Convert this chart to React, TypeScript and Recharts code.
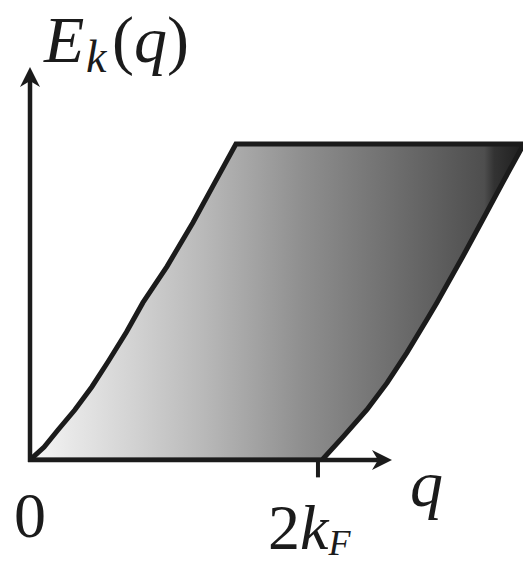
import { Area, ComposedChart, ReferenceLine, XAxis, YAxis } from "recharts"

// upper edge of the continuum, q in units of 2kF, E scaled so the cut-off is 1
const upperQ = [0, 0.049, 0.097, 0.156, 0.215, 0.271, 0.335, 0.392, 0.476, 0.566, 0.635, 0.715]
const upperE = [0, 0.041, 0.095, 0.159, 0.232, 0.311, 0.405, 0.498, 0.613, 0.752, 0.867, 1]
// lower edge, starting at 2kF
const lowerQ = [1.014, 1.087, 1.17, 1.24, 1.309, 1.378, 1.413, 1.503, 1.573, 1.642, 1.715]
const lowerE = [0, 0.073, 0.159, 0.244, 0.34, 0.444, 0.498, 0.644, 0.762, 0.879, 1]
const topE = 1
const twoKF = 1

const qMax = 1.712
const eMax = 1.244
const xArrowEnd = 1.257

// range rows [low, high] for the shaded band
const data = [
  ...upperQ.map((q, i) => ({ q, range: [0, upperE[i]] })),
  ...lowerQ.map((q, i) => ({ q, range: [lowerE[i], topE] })),
]

const ink = "#1b1b1b"
const serif = "'Liberation Serif', 'DejaVu Serif', serif"

function Arrow(props: any) {
  const { x1, y1, x2, y2 } = props
  const dx = x2 - x1
  const dy = y2 - y1
  const len = Math.sqrt(dx * dx + dy * dy) || 1
  const ux = dx / len
  const uy = dy / len
  const px = -uy
  const py = ux
  const head = 20
  const half = 10
  const bx = x2 - ux * head
  const by = y2 - uy * head
  const nx = x2 - ux * head * 0.7
  const ny = y2 - uy * head * 0.7
  const pts = [
    [x2, y2],
    [bx + px * half, by + py * half],
    [nx, ny],
    [bx - px * half, by - py * half],
  ]
    .map((p) => p.join(","))
    .join(" ")
  return (
    <g>
      <line x1={x1 - ux * 2} y1={y1 - uy * 2} x2={nx} y2={ny} stroke={ink} strokeWidth={4.5} />
      <polygon points={pts} fill={ink} />
    </g>
  )
}

export default function App() {
  return (
    <div style={{ position: "absolute", left: 0, top: 0, width: 523, height: 564 }}>
      <ComposedChart
        width={523}
        height={564}
        data={data}
        margin={{ top: 67, right: 0, bottom: 104, left: 30 }}
      >
        <defs>
          <linearGradient id="band" x1="0" y1="0" x2="1" y2="0">
            <stop offset="0" stopColor="#f7f7f7" />
            <stop offset="0.08" stopColor="#e8e8e8" />
            <stop offset="0.2" stopColor="#d4d4d4" />
            <stop offset="0.35" stopColor="#b9b9b9" />
            <stop offset="0.55" stopColor="#8f8f8f" />
            <stop offset="0.76" stopColor="#6a6a6a" />
            <stop offset="0.92" stopColor="#4e4e4e" />
            <stop offset="0.94" stopColor="#333333" />
            <stop offset="1" stopColor="#1e1e1e" />
          </linearGradient>
        </defs>
        <XAxis type="number" dataKey="q" domain={[0, qMax]} hide allowDataOverflow />
        <YAxis type="number" domain={[0, eMax]} hide allowDataOverflow />
        <Area
          type="linear"
          dataKey="range"
          fill="url(#band)"
          fillOpacity={1}
          stroke={ink}
          strokeWidth={5}
          strokeLinejoin="miter"
          dot={false}
          activeDot={false}
          isAnimationActive={false}
        />
        <ReferenceLine
          segment={[{ x: 0, y: 0 }, { x: xArrowEnd, y: 0 }]}
          ifOverflow="visible"
          shape={Arrow}
        />
        <ReferenceLine
          segment={[{ x: 0, y: 0 }, { x: 0, y: eMax }]}
          ifOverflow="visible"
          shape={Arrow}
        />
        <ReferenceLine
          segment={[{ x: twoKF, y: 0 }, { x: twoKF, y: -0.055 }]}
          ifOverflow="visible"
          stroke={ink}
          strokeWidth={4}
        />
        <text x={44} y={62} fontFamily={serif} fontSize={66} fontStyle="italic" fill={ink}>
          E
        </text>
        <text x={86} y={72} fontFamily={serif} fontSize={46} fontStyle="italic" fill={ink}>
          k
        </text>
        <text x={112} y={62} fontFamily={serif} fontSize={66} fill={ink}>
          (<tspan fontStyle="italic">q</tspan>)
        </text>
        <text x={30} y={537} textAnchor="middle" fontFamily={serif} fontSize={64} fill={ink}>
          0
        </text>
        <text x={268} y={549} fontFamily={serif} fontSize={64} fill={ink}>
          2<tspan fontStyle="italic">k</tspan>
          <tspan fontStyle="italic" fontSize={36} dy={6}>
            F
          </tspan>
        </text>
        <text x={410} y={506} fontFamily={serif} fontSize={66} fontStyle="italic" fill={ink}>
          q
        </text>
      </ComposedChart>
    </div>
  )
}
